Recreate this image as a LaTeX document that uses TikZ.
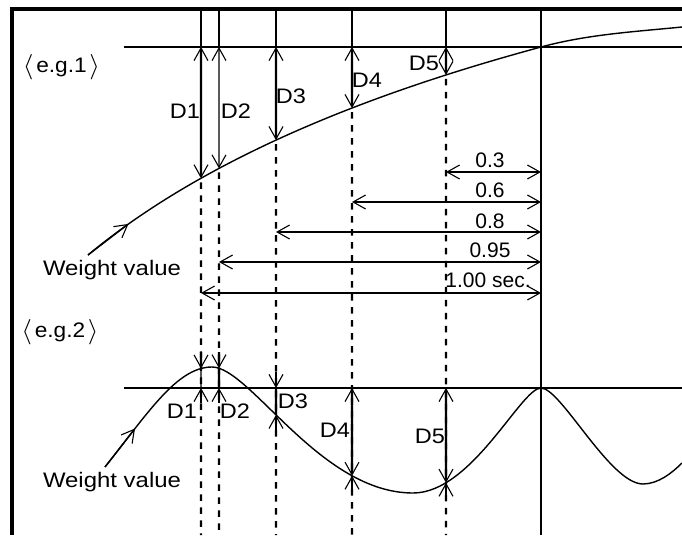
\documentclass[tikz,border=0pt]{standalone}
\usepackage{fontspec}
\setmainfont{Liberation Sans}
\usetikzlibrary{arrows.meta,intersections,calc}
\tikzset{
  vline/.style={line width=2.4pt},
  thinline/.style={line width=1.1pt},
  dline/.style={line width=2.2pt, dash pattern=on 6.5pt off 6.5pt, dash phase=-4pt},
  curve/.style={line width=1.4pt, line join=round},
  lbl/.style={font=\fontsize{21}{24}\selectfont, inner sep=0pt, anchor=base}
}
\newcommand{\wide}[2]{\scalebox{#1}[1]{#2}}
\newcommand{\lbr}{\raisebox{-1.6pt}{\scalebox{1.22}{$\langle$}}}
\newcommand{\rbr}{\raisebox{-1.6pt}{\scalebox{1.22}{$\rangle$}}}
\begin{document}
\begin{tikzpicture}[x=1pt,y=-1pt,>={Straight Barb[length=12.5pt,width=14pt,line width'=1.1pt]}]
\useasboundingbox (0,0) rectangle (682,535);

% frame
\draw[line width=3.2pt, line join=miter] (12,535) -- (12,9) -- (682,9);

% reference lines
\coordinate (r1l) at (124,47);   \coordinate (r1r) at (682,47);
\coordinate (r2l) at (124,388);  \coordinate (r2r) at (682,388);
\draw[vline] (r1l) -- (r1r);
\draw[vline] (r2l) -- (r2r);
\coordinate (tT) at (541,9); \coordinate (tB) at (541,535);
\draw[vline] (tT) -- (tB);

% curves
\coordinate (s1) at (88,255);
\draw[curve, name path=C1] (s1) .. controls (218,147) and (401,85) .. (541,47)
   .. controls (588,34.3) and (635,31.7) .. (682,27);
\coordinate (s2) at (105,467);
\draw[curve, name path=C2] (s2) .. controls (148,413) and (177,367) .. (212,367)
   .. controls (250,367) and (320,493) .. (413,493)
   .. controls (472,493) and (521,388) .. (541,388)
   .. controls (561,388) and (610,484) .. (643,484)
   .. controls (658,484) and (672,473) .. (682,463);

% direction marks on the curves
\coordinate (m1) at (128.5,223.9);
\draw[->, curve] (s1) -- (m1);
\coordinate (m2) at (135,428.5);
\draw[->, curve] (s2) -- (m2);

% verticals, intersections
\foreach \i/\x in {1/201,2/219,3/276,4/352,5/446} {
  \path[name path=V\i] (\x,0) -- (\x,535);
  \path[name intersections={of=C1 and V\i, by={a\i}}];
  \path[name intersections={of=C2 and V\i, by={b\i}}];
  \coordinate (top\i) at (\x,9);
  \coordinate (ref\i) at (\x,47);
  \coordinate (l\i) at (\x,388);
  \coordinate (bot\i) at (\x,535);
  \draw[dline] (a\i) -- (bot\i);
  \draw[vline] (top\i) -- (ref\i);
}

% e.g.1 D arrows
\draw[<->, vline] (ref1) -- (a1);
\draw[<->, thinline] (ref2) -- (a2);
\draw[<->, vline] (ref3) -- (a3);
\draw[<->, vline] (ref4) -- (a4);
\draw[<->, vline] (ref5) -- (a5);

\node[lbl] (d1a) at (185,118.5) {\wide{1.12}{D1}};
\node[lbl] (d2a) at (236,118.5) {\wide{1.12}{D2}};
\node[lbl] (d3a) at (291,103.5) {\wide{1.12}{D3}};
\node[lbl] (d4a) at (367,87.5) {\wide{1.12}{D4}};
\node[lbl] (d5a) at (424,70.5) {\wide{1.12}{D5}};

% horizontal dimensions
\foreach \x/\y in {446/172,352/202,276/232,219/262,201/293} {
  \coordinate (hl\y) at (\x,\y);
  \coordinate (hr\y) at (541,\y);
  \draw[<->, vline] (hl\y) -- (hr\y);
}
\node[lbl] (t03) at (490,167) {0.3};
\node[lbl] (t06) at (490,197) {0.6};
\node[lbl] (t08) at (490,228) {0.8};
\node[lbl] (t095) at (490,257) {0.95};
\node[lbl] (t100) at (488,287) {1.00 sec.};

\node[lbl] (eg1) at (61.5,72) {\wide{1.08}{\lbr\kern2.5pt e.g.1\kern2.5pt\rbr}};
\node[lbl] (wv1) at (112,275) {\wide{1.14}{Weight value}};

% e.g.2
\node[lbl] (eg2) at (60,337) {\wide{1.08}{\lbr\kern2.5pt e.g.2\kern2.5pt\rbr}};
\node[lbl] (wv2) at (112,487) {\wide{1.14}{Weight value}};

% e.g.2 D arrows
\coordinate (u1) at (201,352); \coordinate (w1) at (201,403);
\draw[->, vline] (u1) -- (b1);
\draw[thinline] (b1) -- (l1);
\draw[->, vline] (w1) -- (l1);

\coordinate (u2) at (219,352); \coordinate (w2) at (219,403);
\draw[->, vline] (u2) -- (b2);
\draw[vline] (b2) -- (l2);
\draw[->, vline] (w2) -- (l2);

\coordinate (u3) at (276,372); \coordinate (w3) at ($(b3)+(0,15)$);
\draw[->, vline] (u3) -- (l3);
\draw[vline] (l3) -- (b3);
\draw[->, vline] (w3) -- (b3);

\coordinate (w4) at ($(b4)+(0,15)$);
\draw[<->, vline] (l4) -- (b4);
\draw[->, vline] (w4) -- (b4);

\coordinate (w5) at ($(b5)+(0,15)$);
\draw[<->, vline] (l5) -- (b5);
\draw[->, vline] (w5) -- (b5);

\node[lbl] (d1b) at (182,418) {\wide{1.12}{D1}};
\node[lbl] (d2b) at (235,418) {\wide{1.12}{D2}};
\node[lbl] (d3b) at (293,408) {\wide{1.12}{D3}};
\node[lbl] (d4b) at (335,437) {\wide{1.12}{D4}};
\node[lbl] (d5b) at (430,443) {\wide{1.12}{D5}};
\end{tikzpicture}
\end{document}
